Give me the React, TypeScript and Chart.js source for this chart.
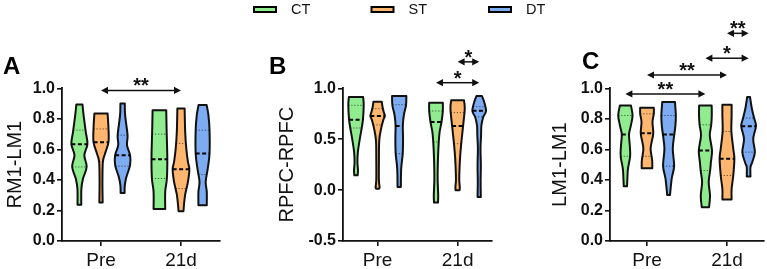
import React, { useEffect, useRef } from 'react';
import { Chart, registerables } from 'chart.js';

Chart.register(...registerables);

// ---------- data ----------
const groups = ['CT', 'ST', 'DT'];
const timepoints = ['Pre', '21d'];
const groupColors = ['#90EC8F', '#FFB66F', '#7DACF2'];

// violin profiles: [value, relative half-width]
const A_Pre_CT = [[0.894, 2.8], [0.824, 3.8], [0.715, 5.8], [0.634, 7.3], [0.562, 4.5], [0.486, 6.6], [0.409, 3.3], [0.343, 1.8], [0.238, 1.7]];
const A_Pre_ST = [[0.835, 6.0], [0.737, 6.8], [0.647, 6.8], [0.573, 3.7], [0.518, 1.7], [0.387, 1.3], [0.252, 1.5]];
const A_Pre_DT = [[0.901, 2.0], [0.824, 2.3], [0.693, 4.5], [0.628, 4.0], [0.562, 6.8], [0.497, 6.8], [0.42, 3.5], [0.365, 2.0], [0.315, 1.8]];
const A_21d_CT = [[0.857, 6.2], [0.715, 6.6], [0.54, 7.2], [0.409, 6.8], [0.322, 5.3], [0.21, 5.3]];
const A_21d_ST = [[0.868, 3.3], [0.715, 3.8], [0.606, 4.8], [0.518, 6.3], [0.47, 7.6], [0.387, 6.3], [0.3, 3.7], [0.195, 2.2]];
const A_21d_DT = [[0.89, 3.7], [0.824, 5.3], [0.726, 6.3], [0.573, 6.3], [0.475, 4.7], [0.387, 2.8], [0.322, 3.8], [0.234, 3.8]];

const B_Pre_CT = [[0.915, 6.5], [0.833, 7.0], [0.692, 6.3], [0.61, 5.2], [0.505, 3.5], [0.374, 1.7], [0.276, 1.3], [0.194, 1.8], [0.145, 1.5]];
const B_Pre_ST = [[0.868, 3.8], [0.816, 4.5], [0.77, 5.5], [0.728, 6.6], [0.69, 5.2], [0.604, 3.2], [0.489, 1.5], [0.3, 1.2], [0.1, 1.2], [0.03, 1.8], [0.014, 1.5]];
const B_Pre_DT = [[0.924, 6.5], [0.833, 6.2], [0.735, 4.2], [0.63, 3.3], [0.505, 3.5], [0.358, 3.2], [0.21, 1.8], [0.031, 1.5]];
const B_21d_CT = [[0.859, 6.2], [0.777, 6.2], [0.669, 5.0], [0.571, 3.3], [0.473, 2.5], [0.309, 1.8], [0.112, 1.5], [-0.051, 2.0], [-0.123, 1.8]];
const B_21d_ST = [[0.882, 5.8], [0.8, 6.5], [0.63, 5.0], [0.456, 3.3], [0.309, 2.2], [0.112, 1.5], [0.031, 2.0], [-0.002, 1.8]];
const B_21d_DT = [[0.924, 2.5], [0.866, 4.5], [0.777, 6.2], [0.718, 3.7], [0.636, 2.0], [0.538, 1.7], [0.407, 1.2], [0.243, 1.5], [0.08, 1.3], [-0.068, 1.5]];

const C_Pre_CT = [[0.888, 5.0], [0.822, 6.5], [0.757, 5.0], [0.698, 3.3], [0.625, 4.0], [0.555, 4.3], [0.472, 2.3], [0.407, 1.8], [0.359, 1.5]];
const C_Pre_ST = [[0.873, 6.2], [0.833, 6.2], [0.779, 5.0], [0.706, 5.7], [0.647, 4.2], [0.6, 3.3], [0.527, 4.7], [0.477, 4.8]];
const C_Pre_DT = [[0.91, 5.8], [0.822, 6.6], [0.757, 6.2], [0.698, 5.2], [0.604, 3.8], [0.49, 5.0], [0.407, 2.8], [0.302, 1.3]];
const C_21d_CT = [[0.888, 5.7], [0.822, 5.8], [0.761, 5.3], [0.691, 4.0], [0.593, 6.0], [0.516, 5.0], [0.461, 4.3], [0.385, 3.0], [0.297, 4.2], [0.221, 3.3]];
const C_21d_ST = [[0.892, 4.2], [0.822, 4.2], [0.717, 4.0], [0.604, 5.7], [0.538, 6.7], [0.429, 5.7], [0.341, 4.2], [0.271, 4.2]];
const C_21d_DT = [[0.943, 1.3], [0.866, 3.0], [0.805, 5.0], [0.752, 6.7], [0.669, 4.2], [0.582, 5.7], [0.516, 3.3], [0.483, 1.7], [0.422, 1.7]];

// order: Pre CT, Pre ST, Pre DT, 21d CT, 21d ST, 21d DT
const A_q1 = [0.485, 0.52, 0.49, 0.409, 0.343, 0.435];
const A_median = [0.634, 0.647, 0.562, 0.536, 0.47, 0.573];
const A_q3 = [0.726, 0.734, 0.693, 0.70, 0.639, 0.726];

const B_q1 = [0.61, 0.64, 0.358, 0.473, 0.456, 0.72];
const B_median = [0.692, 0.728, 0.63, 0.669, 0.63, 0.78];
const B_q3 = [0.833, 0.80, 0.839, 0.777, 0.761, 0.819];

const C_q1 = [0.555, 0.555, 0.49, 0.461, 0.429, 0.582];
const C_median = [0.698, 0.706, 0.698, 0.593, 0.538, 0.752];
const C_q3 = [0.822, 0.833, 0.822, 0.761, 0.717, 0.805];

const A_yTicks = [0.0, 0.2, 0.4, 0.6, 0.8, 1.0];
const B_yTicks = [-0.5, 0.0, 0.5, 1.0];
const C_yTicks = [0.0, 0.2, 0.4, 0.6, 0.8, 1.0];

// comparisons: [fromTime, fromGroup, toTime, toGroup, level, label]
const A_comparisons = [['Pre', 'ST', '21d', 'ST', 0.986, '**']];
const B_comparisons = [
  ['21d', 'CT', '21d', 'DT', 1.055, '*'],
  ['21d', 'ST', '21d', 'DT', 1.26, '*'],
];
const C_comparisons = [
  ['Pre', 'CT', '21d', 'CT', 0.963, '**'],
  ['Pre', 'ST', '21d', 'ST', 1.087, '**'],
  ['21d', 'CT', '21d', 'DT', 1.197, '*'],
  ['21d', 'ST', '21d', 'DT', 1.36, '**'],
];

// ---------- layout / style ----------
const GROUP_OFFSET = 0.27;
const WIDTH_UNIT = 1.1 / 80;
const SANS = '"Liberation Sans", Arial, sans-serif';

const panels = [
  {
    letter: 'A', title: 'RM1-LM1', yMin: 0, yMax: 1, yTicks: A_yTicks,
    violins: [A_Pre_CT, A_Pre_ST, A_Pre_DT, A_21d_CT, A_21d_ST, A_21d_DT],
    q1: A_q1, median: A_median, q3: A_q3, comps: A_comparisons,
    left: 0, width: 226, axisX: 62, xMin: -0.4875, xMax: 1.4875, titlePad: 3.5,
    letterX: 3, letterY: 74,
  },
  {
    letter: 'B', title: 'RPFC-RPFC', yMin: -0.5, yMax: 1, yTicks: B_yTicks,
    violins: [B_Pre_CT, B_Pre_ST, B_Pre_DT, B_21d_CT, B_21d_ST, B_21d_DT],
    q1: B_q1, median: B_median, q3: B_q3, comps: B_comparisons,
    left: 262, width: 238, axisX: 343, xMin: -0.4325, xMax: 1.4325, titlePad: 13,
    letterX: 7, letterY: 74,
  },
  {
    letter: 'C', title: 'LM1-LM1', yMin: 0, yMax: 1, yTicks: C_yTicks,
    violins: [C_Pre_CT, C_Pre_ST, C_Pre_DT, C_21d_CT, C_21d_ST, C_21d_DT],
    q1: C_q1, median: C_median, q3: C_q3, comps: C_comparisons,
    left: 520, width: 247, axisX: 610, xMin: -0.4625, xMax: 1.4625, titlePad: 28,
    letterX: 62, letterY: 69,
  },
];

const H = 269;
const CHART_TOP = 88.3;
const X_AXIS_H = 28;

function smoothTo(ctx: CanvasRenderingContext2D, pts: { x: number; y: number }[]) {
  for (let i = 0; i < pts.length - 1; i++) {
    const p0 = pts[i - 1] || pts[i];
    const p1 = pts[i];
    const p2 = pts[i + 1];
    const p3 = pts[i + 2] || pts[i + 1];
    const t = 1 / 6;
    ctx.bezierCurveTo(
      p1.x + (p2.x - p0.x) * t, p1.y + (p2.y - p0.y) * t,
      p2.x - (p3.x - p1.x) * t, p2.y - (p3.y - p1.y) * t,
      p2.x, p2.y
    );
  }
}

function widthAt(prof: number[][], v: number) {
  for (let i = 0; i < prof.length - 1; i++) {
    const [v1, w1] = prof[i];
    const [v2, w2] = prof[i + 1];
    if (v <= v1 && v >= v2) {
      const t = (v1 - v) / (v1 - v2 || 1);
      return w1 + (w2 - w1) * t;
    }
  }
  return prof[prof.length - 1][1];
}

function makeViolinPlugin(p: any) {
  return {
    id: 'violins' + p.letter,
    afterDatasetsDraw(chart: any) {
      const ctx: CanvasRenderingContext2D = chart.ctx;
      const xs = chart.scales.x;
      const ys = chart.scales.y;
      ctx.save();
      p.violins.forEach((prof: number[][], idx: number) => {
        const t = Math.floor(idx / 3);
        const g = idx % 3;
        const cx = t + (g - 1) * GROUP_OFFSET;
        const right = prof.map(([v, w]) => ({ x: xs.getPixelForValue(cx + w * WIDTH_UNIT), y: ys.getPixelForValue(v) }));
        const left = prof.map(([v, w]) => ({ x: xs.getPixelForValue(cx - w * WIDTH_UNIT), y: ys.getPixelForValue(v) })).reverse();
        ctx.beginPath();
        ctx.moveTo(right[0].x, right[0].y);
        smoothTo(ctx, right);
        ctx.lineTo(left[0].x, left[0].y);
        smoothTo(ctx, left);
        ctx.closePath();
        ctx.fillStyle = groupColors[g];
        ctx.fill();
        ctx.lineWidth = 2;
        ctx.strokeStyle = '#111';
        ctx.lineJoin = 'round';
        ctx.setLineDash([]);
        ctx.stroke();

        const line = (v: number, dash: number[], lw: number, color: string) => {
          const hw = widthAt(prof, v) * WIDTH_UNIT;
          const y = ys.getPixelForValue(v);
          ctx.beginPath();
          ctx.setLineDash(dash);
          ctx.lineWidth = lw;
          ctx.strokeStyle = color;
          ctx.moveTo(xs.getPixelForValue(cx - hw), y);
          ctx.lineTo(xs.getPixelForValue(cx + hw), y);
          ctx.stroke();
        };
        line(p.q1[idx], [1.2, 1.8], 1, 'rgba(0,0,0,0.6)');
        line(p.q3[idx], [1.2, 1.8], 1, 'rgba(0,0,0,0.6)');
        line(p.median[idx], [4, 2.5], 2, '#000');
      });
      ctx.restore();
    },
    afterDraw(chart: any) {
      const ctx: CanvasRenderingContext2D = chart.ctx;
      const xs = chart.scales.x;
      const ys = chart.scales.y;
      ctx.save();
      ctx.setLineDash([]);
      p.comps.forEach(([ft, fg, tt, tg, level, label]: any[]) => {
        const x1 = xs.getPixelForValue(timepoints.indexOf(ft) + (groups.indexOf(fg) - 1) * GROUP_OFFSET);
        const x2 = xs.getPixelForValue(timepoints.indexOf(tt) + (groups.indexOf(tg) - 1) * GROUP_OFFSET);
        const y = ys.getPixelForValue(level);
        ctx.strokeStyle = '#111';
        ctx.fillStyle = '#111';
        ctx.lineWidth = 1.5;
        const ah = 7;
        const aw = 3.6;
        ctx.beginPath();
        ctx.moveTo(x1 + ah - 1, y);
        ctx.lineTo(x2 - ah + 1, y);
        ctx.stroke();
        ctx.beginPath();
        ctx.moveTo(x1, y);
        ctx.lineTo(x1 + ah, y - aw);
        ctx.lineTo(x1 + ah, y + aw);
        ctx.closePath();
        ctx.fill();
        ctx.beginPath();
        ctx.moveTo(x2, y);
        ctx.lineTo(x2 - ah, y - aw);
        ctx.lineTo(x2 - ah, y + aw);
        ctx.closePath();
        ctx.fill();
        ctx.font = 'bold 20px ' + SANS;
        ctx.textAlign = 'center';
        ctx.textBaseline = 'alphabetic';
        ctx.fillText(label, (x1 + x2) / 2, y + 2);
      });
      ctx.font = 'bold 24px ' + SANS;
      ctx.textAlign = 'left';
      ctx.textBaseline = 'alphabetic';
      ctx.fillStyle = '#000';
      ctx.fillText(p.letter, p.letterX, p.letterY);
      ctx.restore();
    },
  };
}

const legendPlugin = {
  id: 'customLegend',
  afterDraw(chart: any) {
    const ctx: CanvasRenderingContext2D = chart.ctx;
    ctx.save();
    chart.data.datasets.forEach((ds: any, i: number) => {
      const x0 = 13 + i * 117.5;
      const yc = 9.5;
      ctx.fillStyle = ds.backgroundColor;
      ctx.strokeStyle = '#000';
      ctx.lineWidth = 2;
      ctx.beginPath();
      ctx.rect(x0 + 1, yc - 2.5, 22, 5);
      ctx.fill();
      ctx.stroke();
      ctx.fillStyle = '#111';
      ctx.font = '14.5px ' + SANS;
      ctx.textAlign = 'left';
      ctx.textBaseline = 'middle';
      ctx.fillText(ds.label, x0 + 38, yc);
    });
    ctx.restore();
  },
};

function Panel({ p }: { p: any }) {
  const ref = useRef<HTMLCanvasElement>(null);
  useEffect(() => {
    if (!ref.current) return;
    const datasets = groups.map((g, gi) => ({
      label: g,
      data: timepoints.map((_, ti) => ({ x: ti + (gi - 1) * GROUP_OFFSET, y: p.median[ti * 3 + gi] })),
      backgroundColor: groupColors[gi],
      pointRadius: 0,
      showLine: false,
    }));
    const padRight = p.left + p.width - (p.axisX + (p.xMax - p.xMin) * 80);
    const chart = new Chart(ref.current, {
      type: 'scatter',
      data: { datasets },
      options: {
        animation: false,
        responsive: false,
        events: [],
        layout: { padding: { top: CHART_TOP, right: padRight, bottom: 0, left: 0 } },
        plugins: { legend: { display: false }, tooltip: { enabled: false } },
        scales: {
          x: {
            type: 'linear',
            min: p.xMin,
            max: p.xMax,
            afterBuildTicks: (s: any) => { s.ticks = timepoints.map((_, i) => ({ value: i })); },
            afterFit: (s: any) => { s.height = X_AXIS_H; },
            ticks: {
              callback: (_v: any, i: number) => timepoints[i],
              font: { family: SANS, size: 19 },
              color: '#111',
              padding: 3,
              maxRotation: 0,
              autoSkip: false,
            },
            grid: { display: true, drawOnChartArea: false, drawTicks: true, tickLength: 5, color: '#111', lineWidth: 1.6 },
            border: { display: true, color: '#111', width: 1.8 },
          },
          y: {
            type: 'linear',
            min: p.yMin,
            max: p.yMax,
            afterBuildTicks: (s: any) => { s.ticks = p.yTicks.map((v: number) => ({ value: v })); },
            afterFit: (s: any) => { s.width = p.axisX - p.left; },
            ticks: {
              callback: (_v: any, i: number) => p.yTicks[i].toFixed(1),
              font: { family: SANS, size: 16, weight: 'bold' },
              color: '#111',
              padding: 2,
            },
            grid: { display: true, drawOnChartArea: false, drawTicks: true, tickLength: 5, color: '#111', lineWidth: 1.6 },
            border: { display: true, color: '#111', width: 1.8 },
            title: {
              display: true,
              text: p.title,
              font: { family: SANS, size: 20 },
              color: '#111',
              padding: { top: p.titlePad, bottom: 0 },
            },
          },
        },
      },
      plugins: [makeViolinPlugin(p)],
    } as any);
    return () => chart.destroy();
  }, [p]);
  return (
    <canvas
      ref={ref}
      width={p.width}
      height={H}
      style={{ position: 'absolute', left: p.left, top: 0, width: p.width, height: H }}
    />
  );
}

function Legend() {
  const ref = useRef<HTMLCanvasElement>(null);
  useEffect(() => {
    if (!ref.current) return;
    const chart = new Chart(ref.current, {
      type: 'scatter',
      data: {
        datasets: groups.map((g, gi) => ({ label: g, data: [], backgroundColor: groupColors[gi] })),
      },
      options: {
        animation: false,
        responsive: false,
        events: [],
        plugins: { legend: { display: false }, tooltip: { enabled: false } },
        scales: { x: { display: false }, y: { display: false } },
      },
      plugins: [legendPlugin],
    } as any);
    return () => chart.destroy();
  }, []);
  return (
    <canvas
      ref={ref}
      width={320}
      height={24}
      style={{ position: 'absolute', left: 240, top: 0, width: 320, height: 24 }}
    />
  );
}

export default function App() {
  return (
    <div style={{ position: 'absolute', left: 0, top: 0, width: 767, height: 269, background: '#fff', overflow: 'hidden' }}>
      {panels.map((p) => (
        <Panel key={p.letter} p={p} />
      ))}
      <Legend />
    </div>
  );
}
